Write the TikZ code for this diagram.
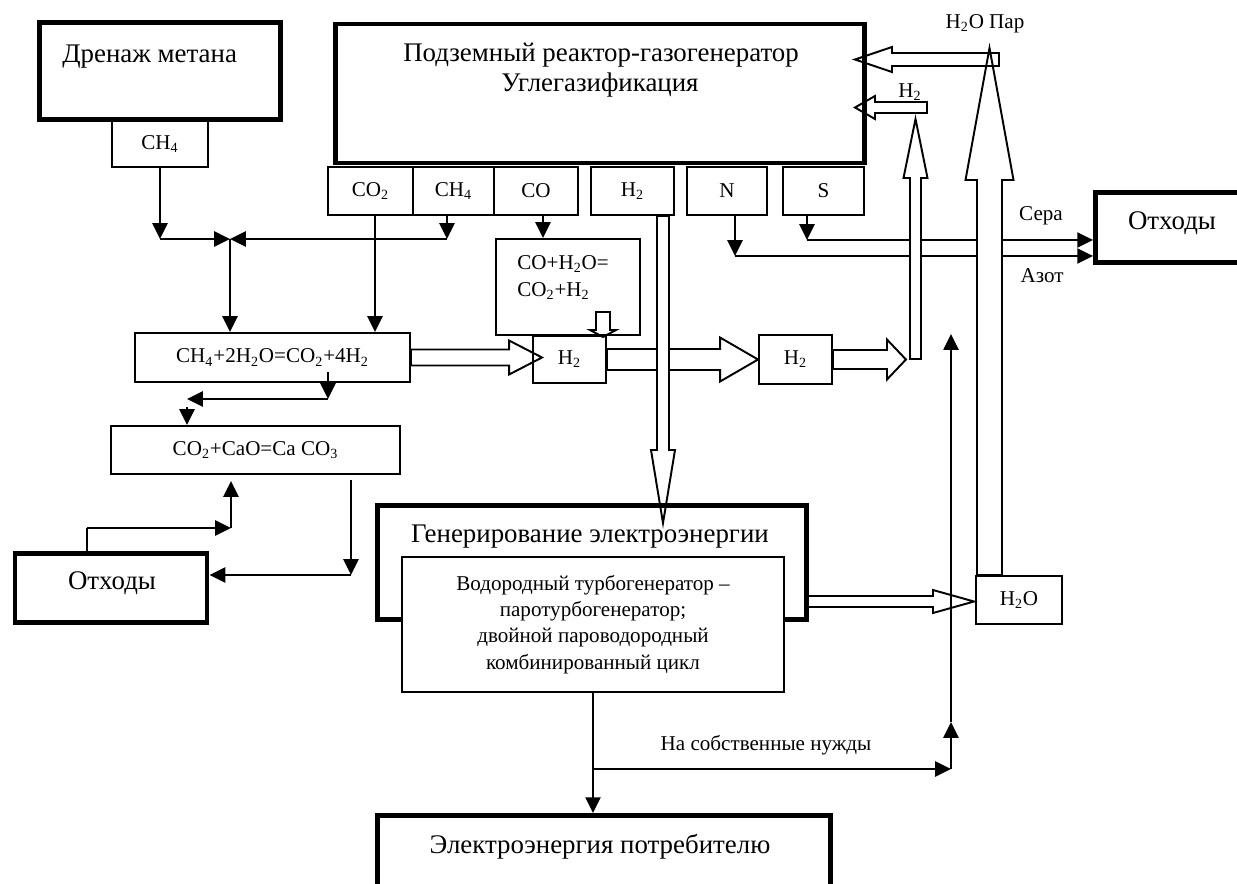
\documentclass[tikz,border=0pt]{standalone}
\usepackage{fontspec}
\setmainfont{Liberation Serif}
\usetikzlibrary{arrows.meta,calc}

\newcommand{\bigtxt}{\fontsize{15.3}{18}\selectfont}
\newcommand{\smalltxt}{\fontsize{12}{15}\selectfont}

% hollow (block) arrow: [options]{start}{tip}{half shaft}{half head}{head length}
\newcommand{\fatarrow}[6][]{%
  \coordinate (fa-s) at (#2);
  \coordinate (fa-t) at (#3);
  \coordinate (fa-b) at ($(fa-t)!#6!(fa-s)$);
  \draw[hollow,#1] ($(fa-s)!#4!90:(fa-t)$) -- ($(fa-b)!#4!90:(fa-t)$)
    -- ($(fa-b)!#5!90:(fa-t)$) -- (fa-t) -- ($(fa-b)!#5!-90:(fa-t)$)
    -- ($(fa-b)!#4!-90:(fa-t)$) -- ($(fa-s)!#4!-90:(fa-t)$) -- cycle;
}

\begin{document}
\begin{tikzpicture}[x=0.02cm, y=-0.02cm,
  bigbox/.style={draw, line width=2.8pt, inner sep=0pt, font=\bigtxt},
  smallbox/.style={draw, line width=1.1pt, inner sep=0pt, font=\smalltxt},
  lbl/.style={inner sep=0pt, font=\smalltxt},
  biglbl/.style={inner sep=0pt, font=\bigtxt},
  arr/.style={line width=1.4pt, -{Triangle[length=9pt,width=8.5pt]}},
  link/.style={line width=1.4pt},
  hollow/.style={line width=1.1pt, line join=miter}]

  \fill[white] (0,0) rectangle (1237,883);
  \useasboundingbox (0,0) rectangle (1237,883);
  \clip (0,0) rectangle (1237,883);

  % Blocs
  \node[bigbox, minimum width=4.82cm, minimum height=1.94cm] (drain) at (160,71) {};
  \node[smallbox, minimum width=1.92cm, minimum height=0.92cm] (dch4) at (160,144) {CH\textsubscript{4}};
  \node[bigbox, minimum width=10.59cm, minimum height=2.78cm] (reactor) at (600,93.5) {};
  \foreach \nm/\xc/\bw/\txt in {rco2/370.5/1.70/{CO\textsubscript{2}}, rch4/453.5/1.62/{CH\textsubscript{4}},
      rco/536/1.68/CO, rh2/632.5/1.66/{H\textsubscript{2}}, rn/727/1.60/N, rs/823.5/1.62/S}
    \node[smallbox, minimum width=\bw cm, minimum height=0.96cm] (\nm) at (\xc,191) {\txt};
  \node[smallbox, minimum width=2.88cm, minimum height=1.92cm] (cobox) at (568,287) {};
  \node[smallbox, minimum width=1.46cm, minimum height=0.94cm] (h2a) at (569.5,359.5) {H\textsubscript{2}};
  \node[smallbox, minimum width=1.46cm, minimum height=0.98cm] (h2b) at (795.5,359.5) {H\textsubscript{2}};
  \node[smallbox, minimum width=5.50cm, minimum height=0.98cm] (reform) at (272.5,357.5)
    {CH\textsubscript{4}+2H\textsubscript{2}O=CO\textsubscript{2}+4H\textsubscript{2}};
  \node[smallbox, minimum width=5.78cm, minimum height=0.96cm] (carbonate) at (255.5,450)
    {CO\textsubscript{2}+CaO=Ca CO\textsubscript{3}};
  \node[bigbox, minimum width=3.84cm, minimum height=1.39cm] (wasteL) at (111,588) {};
  \node[bigbox, minimum width=3.06cm, minimum height=1.40cm] (wasteR) at (1172,227.5) {};
  \node[smallbox, minimum width=1.72cm, minimum height=0.96cm] (h2obox) at (1019,600) {H\textsubscript{2}O};
  \node[bigbox, minimum width=9.06cm, minimum height=2.80cm] (consumer) at (604,885.5) {};

  % Fleches fines (partie gauche)
  \coordinate (ch4out) at ($(rch4.south)+(-6.5,0)$);
  \coordinate (co2out) at ($(rco2.south)+(4.5,0)$);
  \coordinate (coout) at ($(rco.south)+(7,0)$);
  \coordinate (nout) at ($(rn.south)+(8,0)$);
  \coordinate (sout) at ($(rs.south)+(-16.5,0)$);
  \coordinate (j1) at (230,239);
  \draw[arr] (dch4.south) -- (dch4.south |- j1);
  \draw[arr] (dch4.south |- j1) -- (j1);
  \draw[arr] (ch4out) -- (ch4out |- j1);
  \draw[arr] (ch4out |- j1) -- (j1);
  \draw[arr] (j1) -- (j1 |- reform.north);
  \draw[arr] (co2out) -- (co2out |- reform.north);
  \draw[arr] (coout) -- (coout |- cobox.north);

  \coordinate (k1) at (328,399);
  \coordinate (k2) at (187,407);
  \draw[arr] ($(k1 |- reform.south)+(0,-11)$) -- (k1);
  \draw[arr] (k1) -- (k1 -| k2);
  \draw[arr] (k2) -- (k2 |- carbonate.north);

  \coordinate (k3) at (351,575);
  \draw[arr] ($(k3 |- carbonate.south)+(0,5)$) -- (k3);
  \draw[arr] (k3) -- (k3 -| wasteL.east);

  \coordinate (k4) at (231,528);
  \coordinate (k5) at (87,528);
  \draw[link] (k5 |- wasteL.north) -- (k5);
  \draw[arr] (k5) -- (k4);
  \draw[arr] (k4) -- ($(k4 |- carbonate.south)+(0,6)$);

  % Sera / Azot
  \coordinate (nj) at ($(nout)+(0,40)$);
  \coordinate (sj) at ($(sout)+(0,24)$);
  \draw[arr] (nout) -- (nj);
  \draw[arr] (nj) -- (nj -| wasteR.west);
  \draw[arr] (sout) -- (sj);
  \draw[arr] (sj) -- (sj -| wasteR.west);

  % Fleches creuses
  \fatarrow{reform.east}{$(reform.east -| h2a.west)+(10,0)$}{0.16cm}{0.34cm}{0.66cm}
  \fatarrow{h2a.east}{h2b.west}{0.21cm}{0.44cm}{0.76cm}
  \fatarrow{h2b.east}{$(h2b.east)+(73,0)$}{0.19cm}{0.40cm}{0.38cm}
  \fatarrow{603,312}{603,337}{0.14cm}{0.26cm}{0.14cm}
  \fatarrow{927,107.5}{855,107.5}{0.11cm}{0.23cm}{0.4cm}
  \coordinate (h2base) at (915.5,359);
  \coordinate (h2tip) at (915.5,119);
  \fatarrow[fill=white]{h2base}{h2tip}{0.11cm}{0.24cm}{1.18cm}
  \fatarrow[fill=white]{$(h2obox.north)+(-29.5,0)$}{989.5,48}{0.25cm}{0.48cm}{2.64cm}
  \fatarrow{999,59.5}{855,59.5}{0.13cm}{0.25cm}{0.74cm}
  \fatarrow[fill=white]{$(rh2.south)+(30.5,0)$}{663,523}{0.12cm}{0.24cm}{1.46cm}
  \fatarrow{808,601.5}{974,601.5}{0.11cm}{0.23cm}{0.82cm}

  % Generation
  \node[bigbox, minimum width=8.58cm, minimum height=2.28cm] (gen) at (592,562.5) {};
  \node[smallbox, fill=white, minimum width=7.64cm, minimum height=2.70cm, align=center] (inner) at (593,624.5)
    {Водородный турбогенератор –\\паротурбогенератор;\\двойной пароводородный\\комбинированный цикл};

  % Fleches fines (partie basse)
  \coordinate (k6) at ($(inner.south)+(0,76)$);
  \coordinate (k7) at (951,722);
  \draw[arr] (inner.south) -- (inner.south |- consumer.north);
  \draw[arr] (k6) -- (k6 -| k7);
  \draw[arr] (k6 -| k7) -- (k7);
  \draw[arr] (k7) -- (k7 |- h2b.north);

  % Textes
  \node[biglbl, anchor=base west] (drainlbl) at (62,62) {Дренаж метана};
  \node[biglbl, anchor=base] (reactlbl1) at (601,61) {Подземный реактор-газогенератор};
  \node[biglbl, anchor=base] (reactlbl2) at (600,91) {Углегазификация};
  \node[biglbl, anchor=base] (genlbl) at (590,542) {Генерирование электроэнергии};
  \node[biglbl, anchor=base] (userlbl) at (600,853) {Электроэнергия потребителю};
  \node[biglbl, anchor=base] (wasteLlbl) at (112,589) {Отходы};
  \node[biglbl, anchor=base] (wasteRlbl) at (1172,229) {Отходы};
  \node[lbl, anchor=base west] (coeq1) at (517,269) {CO+H\textsubscript{2}O=};
  \node[lbl, anchor=base west] (coeq2) at (517,296) {CO\textsubscript{2}+H\textsubscript{2}};
  \node[lbl, anchor=base] (steamlbl) at (985,28) {H\textsubscript{2}O Пар};
  \node[lbl, anchor=base] (h2lbl) at (910,97) {H\textsubscript{2}};
  \node[lbl, anchor=base] (sulfurlbl) at (1041,220) {Сера};
  \node[lbl, anchor=base] (nitrolbl) at (1042,282) {Азот};
  \node[lbl, anchor=base] (ownlbl) at (766,750) {На собственные нужды};

\end{tikzpicture}
\end{document}
